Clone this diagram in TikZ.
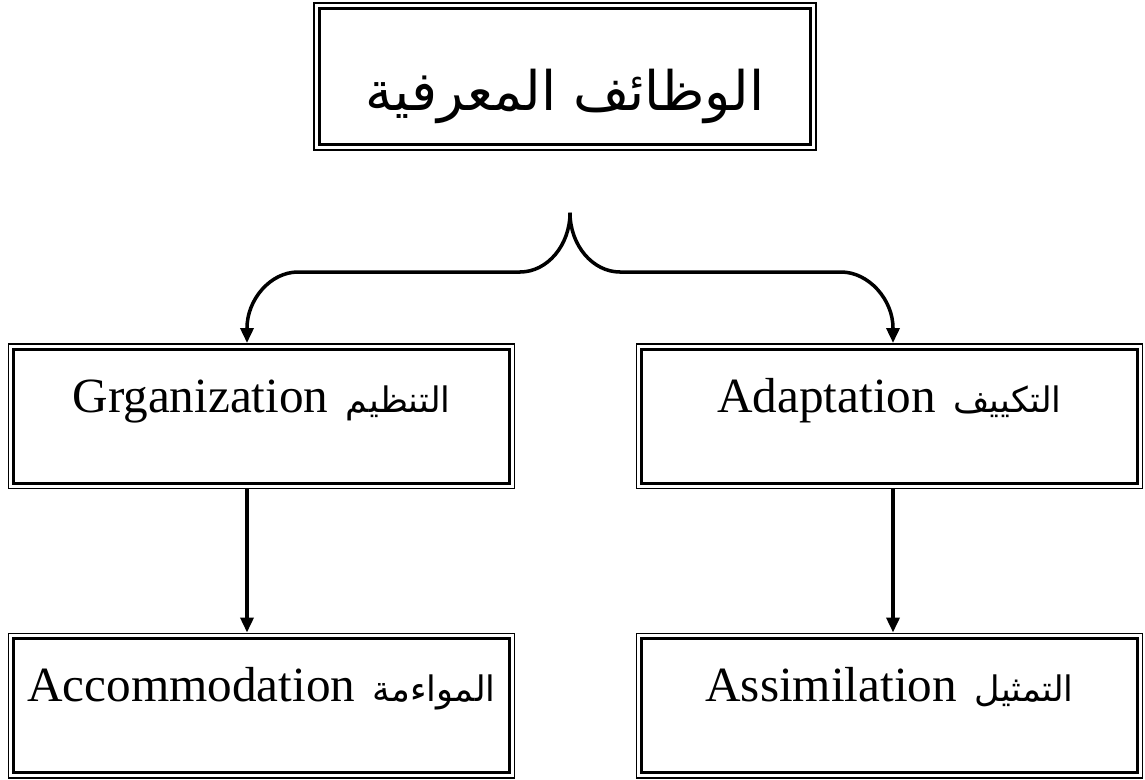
\documentclass[tikz,border=0pt]{standalone}
\usepackage{fontspec}
\setmainfont{Liberation Serif}
\newfontfamily\arabicfont[Script=Arabic]{DejaVu Sans}
\TeXXeTstate=1
\usetikzlibrary{arrows.meta}
\usetikzlibrary{calc}

\newcommand{\artxt}[1]{{\arabicfont\beginR #1\endR}}
\newcommand{\artsm}[1]{{\fontsize{20}{24}\selectfont\artxt{#1}}}

\begin{document}
\begin{tikzpicture}[->,>={Triangle[length=0.3cm,width=0.26cm]},line width=2pt,node distance=5.79cm,
  main box/.style={rectangle,draw,-,line width=0.85pt,inner sep=0pt,align=center,font=\fontsize{28}{34}\selectfont},
  cell/.style={main box,text width=10.12cm,text height=1.37cm,text depth=1.52cm}]

  \useasboundingbox (0,0) rectangle (22.9,-15.58);

  \node[main box,text width=10.04cm,text height=2.14cm,text depth=0.8cm] (FN) at (11.3,-1.53) {\fontsize{31}{36}\selectfont\artxt{الوظائف المعرفية}};
  \node[cell] (ORG) at (5.23,-8.32) {Grganization\hspace{0.35cm}\artsm{التنظيم}};
  \node[cell,right of=ORG,node distance=12.56cm] (ADA) {Adaptation\hspace{0.35cm}\artsm{التكييف}};
  \node[cell,below of=ORG] (ACC) {Accommodation\hspace{0.35cm}\artsm{المواءمة}};
  \node[cell,below of=ADA] (ASM) {Assimilation\hspace{0.35cm}\artsm{التمثيل}};

  % second, thicker frame inside each box
  \foreach \n in {FN,ORG,ADA,ACC,ASM}
    \draw[-,line width=1.7pt] ($(\n.north west)+(0.12,-0.12)$) rectangle ($(\n.south east)+(-0.12,0.12)$);

  \coordinate (tip) at ([xshift=0.1cm,yshift=-1.24cm]FN.south);
  \coordinate (bl) at (4.94,-6.56);
  \coordinate (br) at (17.86,-6.56);

  \draw (tip) .. controls (11.4,-4.9) and (10.95,-5.44) .. (10.4,-5.44) -- (5.96,-5.44)
    .. controls (5.4,-5.44) and (4.94,-6.0) .. (bl) -- (bl |- ORG.north);
  \draw (tip) .. controls (11.4,-4.9) and (11.85,-5.44) .. (12.4,-5.44) -- (16.82,-5.44)
    .. controls (17.38,-5.44) and (17.86,-6.0) .. (br) -- (br |- ADA.north);
  \draw (bl |- ORG.south) -- (bl |- ACC.north);
  \draw (br |- ADA.south) -- (br |- ASM.north);
\end{tikzpicture}
\end{document}
